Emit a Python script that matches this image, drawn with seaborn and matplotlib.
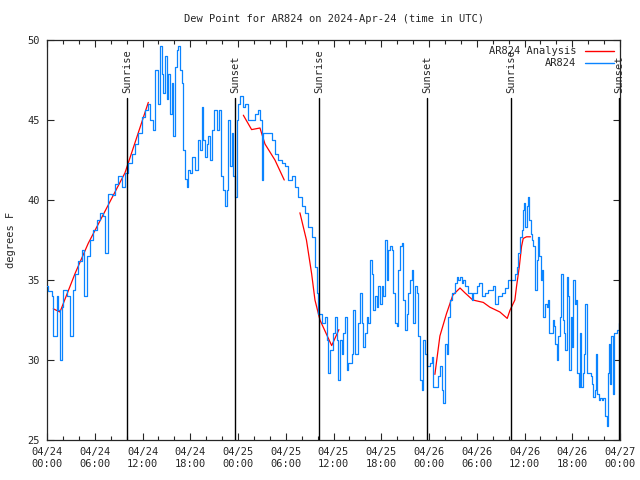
import numpy as np
import pandas as pd
import seaborn as sns
import matplotlib.pyplot as plt
from matplotlib.lines import Line2D

# hours since 2024-04-24 00:00 UTC
obs_hours = [0.0, 0.17, 0.59, 0.79, 1.21, 1.42, 1.63, 1.84, 2.05, 2.47, 2.89, 3.31, 3.52,
             3.94, 4.36, 4.69, 4.98, 5.40, 5.82, 6.24, 6.66, 7.08, 7.29, 7.71, 8.12, 8.54,
             8.96, 9.38, 9.80, 10.22, 10.64, 11.06, 11.47, 11.89, 12.31, 12.73, 12.94,
             13.36, 13.57, 13.99, 14.20, 14.41, 14.62, 14.82, 15.03, 15.24, 15.45, 15.66,
             15.79, 16.08, 16.29, 16.50, 16.71, 16.92, 17.13, 17.34, 17.55, 17.76, 17.97,
             18.17, 18.60, 18.93, 19.22, 19.43, 19.64, 19.85, 20.06, 20.27, 20.48, 20.69,
             21.02, 21.32, 21.61, 21.86, 22.15, 22.36, 22.57, 22.78, 22.99, 23.20, 23.41,
             23.62, 23.83, 24.04, 24.25, 24.67, 24.87, 25.29, 25.71, 26.13, 26.55, 26.76,
             26.97, 27.18, 27.81, 28.23, 28.64, 29.06, 29.48, 29.90, 30.32, 30.74, 31.16,
             31.58, 32.00, 32.41, 32.83, 33.25, 33.67, 33.88, 34.09, 34.51, 34.92, 35.13,
             35.34, 35.55, 35.97, 36.18, 36.39, 36.60, 36.81, 37.02, 37.23, 37.44, 37.65,
             37.86, 38.27, 38.48, 38.69, 38.90, 39.11, 39.32, 39.53, 39.74, 39.95, 40.16,
             40.37, 40.58, 40.79, 41.00, 41.21, 41.42, 41.62, 41.83, 42.04, 42.25, 42.46,
             42.67, 42.88, 43.09, 43.30, 43.51, 43.72, 43.93, 44.14, 44.35, 44.56, 44.77,
             44.97, 45.18, 45.39, 45.60, 45.81, 46.02, 46.23, 46.44, 46.65, 46.86, 47.07,
             47.28, 47.49, 47.70, 48.12, 48.32, 48.53, 48.95, 49.16, 49.37, 49.58, 49.79,
             50.00, 50.21, 50.42, 50.63, 50.84, 51.26, 51.47, 51.68, 51.88, 52.09, 52.30,
             52.51, 52.93, 53.35, 53.56, 53.98, 54.31, 54.61, 55.03, 55.44, 55.86, 56.07,
             56.28, 56.70, 57.12, 57.54, 57.96, 58.38, 58.79, 59.00, 59.21, 59.42, 59.63,
             59.76, 59.92, 60.05, 60.26, 60.39, 60.60, 60.76, 60.89, 61.10, 61.31, 61.52,
             61.64, 61.81, 62.02, 62.14, 62.35, 62.56, 62.77, 62.90, 63.11, 63.40, 63.53,
             63.69, 63.86, 64.03, 64.24, 64.45, 64.57, 64.78, 64.95, 65.12, 65.28, 65.45,
             65.62, 65.79, 65.95, 66.12, 66.29, 66.46, 66.63, 66.79, 66.96, 67.13, 67.30,
             67.46, 67.63, 67.80, 68.05, 68.30, 68.47, 68.64, 68.80, 68.97, 69.14, 69.31,
             69.47, 69.68, 69.89, 70.10, 70.31, 70.44, 70.60, 70.73, 70.90, 71.06, 71.23,
             71.57, 71.90]
obs_dewpt = [34.6, 34.3, 34.0, 31.5, 34.0, 33.1, 30.0, 33.3, 34.4, 34.0, 31.5, 34.4, 35.4,
             36.2, 36.9, 34.0, 36.5, 37.5, 38.1, 38.75, 39.2, 39.0, 36.7, 40.4, 40.3, 41.0,
             41.5, 40.8, 41.7, 42.3, 42.9, 43.5, 44.2, 45.2, 45.6, 46.0, 45.0,
             44.4, 48.1, 46.0, 49.6, 47.9, 46.7, 49.0, 46.3, 47.9, 45.4, 47.3,
             44.0, 48.3, 49.4, 49.6, 48.1, 47.3, 43.1, 41.3, 40.8, 41.9, 41.7,
             42.7, 41.9, 43.75, 43.1, 45.8, 43.75, 42.7, 43.5, 44.0, 42.5, 44.4,
             45.6, 44.4, 45.6, 41.5, 40.6, 39.6, 40.6, 45.0, 42.1, 44.2, 41.5,
             40.2, 45.0, 46.0, 46.5, 45.8, 46.0, 45.0, 45.0, 45.4, 45.6, 45.0,
             41.25, 44.2, 44.2, 43.75, 42.9, 42.5, 42.3, 42.1, 41.25, 41.5, 40.8,
             40.2, 39.6, 39.2, 38.3, 37.7, 35.8, 34.2, 32.9, 32.3, 32.7, 31.25,
             29.2, 30.6, 31.7, 32.7, 31.25, 28.75, 31.25, 30.4, 31.7, 32.7, 29.4,
             29.8, 30.4, 33.1, 30.4, 30.4, 32.3, 34.2, 32.3, 30.8, 31.7, 32.7,
             32.3, 36.25, 35.4, 33.1, 34.0, 33.3, 34.6, 33.5, 34.6, 34.0, 37.5,
             35.0, 36.9, 37.1, 36.9, 34.2, 32.3, 32.1, 35.6, 37.1, 37.3, 33.75,
             31.9, 32.9, 34.2, 35.0, 35.6, 32.3, 34.6, 34.2, 31.5, 28.75, 28.1,
             31.25, 30.4, 29.6, 29.8, 30.2, 28.3, 28.3, 29.0, 29.6, 28.1, 27.3,
             31.0, 30.4, 32.7, 33.75, 34.2, 34.8, 35.2, 35.0, 35.2, 34.8, 35.0,
             34.6, 34.2, 33.75, 34.2, 34.6, 34.8, 34.0, 34.2, 34.4, 34.4, 34.6,
             33.5, 34.0, 34.2, 34.5, 35.0, 35.0, 35.4, 35.8, 36.7, 37.7, 38.1,
             39.4, 39.8, 38.3, 39.6, 40.2, 38.75, 37.9, 37.5, 37.1, 34.4, 36.25,
             37.7, 36.5, 35.0, 35.6, 32.7, 33.5, 33.3, 33.75, 31.7, 31.7, 32.5,
             32.1, 31.0, 30.0, 31.5, 32.7, 35.4, 32.5, 31.7, 30.6, 35.2, 34.0,
             29.4, 32.7, 30.8, 35.0, 33.5, 33.75, 29.2, 28.3, 31.7, 28.3, 29.2,
             30.4, 33.5, 29.2, 29.2, 29.0, 28.5, 27.7, 28.1, 30.4, 27.9, 27.5,
             27.6, 27.5, 27.6, 26.5, 25.9, 29.2, 31.0, 28.5, 31.5, 27.9, 31.7,
             31.9, 32.3]

# analysis curve, broken into segments
ana_hours = [0.79, 1.63, 3.52, 5.19, 7.29, 9.80, 11.47, 12.73,
             24.67, 25.71, 26.76, 27.39, 28.64, 29.81,
             31.78, 32.60, 33.25, 33.67, 34.30, 35.77, 36.68,
             48.74, 49.37, 50.20, 51.00, 51.90, 52.51, 53.50, 54.82, 55.65, 56.91, 57.83,
             58.17, 58.79, 59.00, 59.34, 59.63, 59.84, 60.26, 60.76]
ana_dewpt = [33.2, 33.0, 35.4, 37.3, 39.3, 41.7, 44.2, 46.1,
             45.3, 44.4, 44.5, 43.5, 42.5, 41.25,
             39.2, 37.5, 35.4, 33.75, 32.5, 30.9, 31.9,
             29.1, 31.5, 32.9, 34.06, 34.5, 34.2, 33.75, 33.6, 33.3, 33.0, 32.6,
             33.1, 33.75, 34.6, 35.8, 37.1, 37.6, 37.7, 37.7]
ana_segment = [1] * 8 + [2] * 6 + [3] * 7 + [4] * 19

sun_hours = [10.09, 23.62, 34.17, 47.78, 58.30, 71.86]
sun_labels = ['Sunrise', 'Sunset', 'Sunrise', 'Sunset', 'Sunrise', 'Sunset']

tick_hours = list(range(0, 73, 6))
tick_labels = ['04/24\n00:00', '04/24\n06:00', '04/24\n12:00', '04/24\n18:00',
               '04/25\n00:00', '04/25\n06:00', '04/25\n12:00', '04/25\n18:00',
               '04/26\n00:00', '04/26\n06:00', '04/26\n12:00', '04/26\n18:00',
               '04/27\n00:00']

obs = pd.DataFrame({'hour': obs_hours, 'dewpt': obs_dewpt})
ana = pd.DataFrame({'hour': ana_hours, 'dewpt': ana_dewpt, 'seg': ana_segment})

sns.set_style("ticks")
plt.rcParams['font.family'] = ['DejaVu Sans Mono']
plt.rcParams['font.size'] = 7.5

red = '#ff0000'
blue = '#0a84ff'

fig = plt.figure(figsize=(6.4, 4.8), dpi=100)
ax = fig.add_axes([47 / 640, 1 - 440 / 480, 573 / 640, 400 / 480])

sns.lineplot(data=ana, x='hour', y='dewpt', units='seg', estimator=None,
             color=red, lw=0.9, ax=ax, zorder=2)
sns.lineplot(data=obs, x='hour', y='dewpt', estimator=None, color=blue, lw=0.9,
             drawstyle='steps-post', ax=ax, zorder=3)

for h, lab in zip(sun_hours, sun_labels):
    ax.plot([h, h], [25, 46.375], color='black', lw=1.0, zorder=4)
    ax.text(h, 46.7, lab, rotation=90, ha='center', va='bottom', fontsize=7.5)

ax.set_xlim(0, 72)
ax.set_ylim(25, 50)
ax.set_xticks(tick_hours)
ax.set_xticklabels(tick_labels, linespacing=1.25)
ax.set_xticks(range(0, 73, 2), minor=True)
ax.set_yticks([25, 30, 35, 40, 45, 50])
ax.tick_params(which='both', direction='in', top=True, right=True, width=0.8)
ax.tick_params(which='major', length=5, pad=5)
ax.tick_params(which='minor', length=3)
for s in ax.spines.values():
    s.set_linewidth(0.9)

ax.set_xlabel('')
ax.set_ylabel('degrees F')
ax.yaxis.set_label_coords(-31 / 573, 0.5)
ax.set_title('Dew Point for AR824 on 2024-Apr-24 (time in UTC)', pad=13, fontsize=7.5)

handles = [Line2D([], [], color=red, lw=1), Line2D([], [], color=blue, lw=1)]
ax.legend(handles, ['AR824 Analysis', 'AR824'], loc='upper right', frameon=False,
          markerfirst=False, handlelength=2.8, borderaxespad=0.2, labelspacing=0.2,
          fontsize=7.5)

fig.savefig('out.png', dpi=100)
